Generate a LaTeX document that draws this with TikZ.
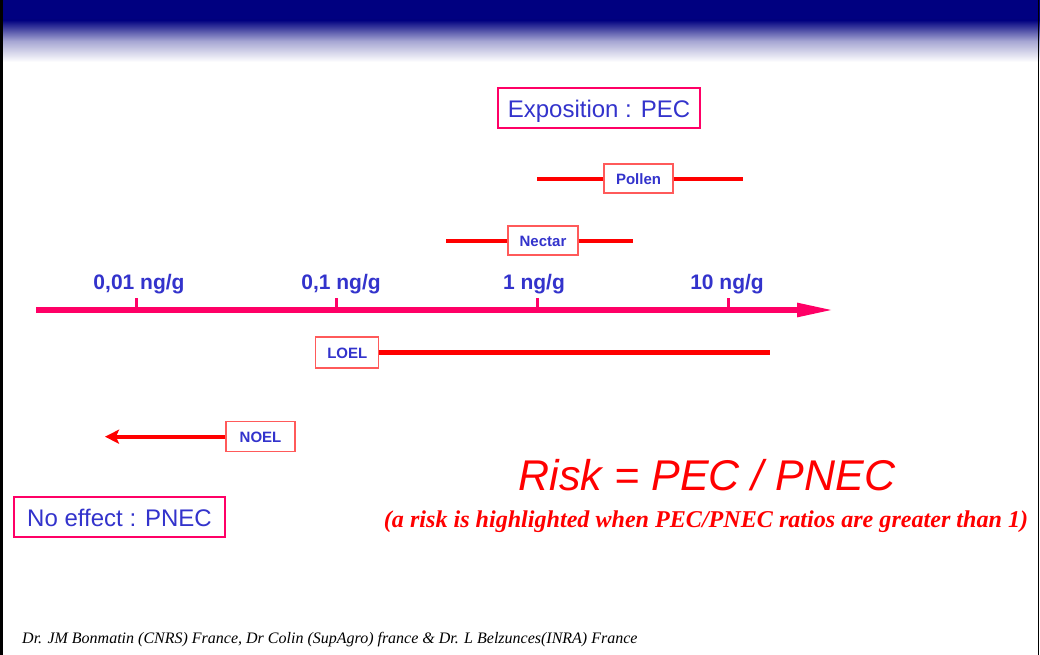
\documentclass[tikz,border=0pt]{standalone}
\usepackage{fontspec}
\setmainfont{Liberation Serif}
\setsansfont{Liberation Sans}
\usetikzlibrary{arrows.meta}
\definecolor{navyhdr}{RGB}{0,0,128}
\definecolor{txtblue}{RGB}{51,51,204}
\definecolor{pinkred}{RGB}{255,0,102}
\definecolor{boxred}{RGB}{255,90,90}
\definecolor{rangered}{RGB}{255,0,0}
\tikzset{
  bigbox/.style={draw=pinkred, line width=2pt, fill=white, text=txtblue,
    font=\sffamily\fontsize{24}{24}\selectfont, inner sep=0pt,
    text height=18.6pt, text depth=0pt},
  smallbox/.style={draw=boxred, line width=1.3pt, fill=white, text=txtblue,
    font=\sffamily\bfseries\fontsize{15}{15}\selectfont, inner sep=0pt,
    text height=11.6pt, text depth=0pt},
  ticklabel/.style={text=txtblue, font=\sffamily\bfseries\fontsize{21}{21}\selectfont,
    anchor=base, inner sep=0pt},
  axisline/.style={draw=pinkred, line width=5.5pt},
  tickmark/.style={draw=pinkred, line width=3pt},
  rangeline/.style={draw=rangered, line width=4pt},
}
\begin{document}
\begin{tikzpicture}[x=1pt,y=-1pt]
\useasboundingbox (0,0) rectangle (1040,655);
\fill[white] (0,0) rectangle (1040,655);
% header
\fill[navyhdr] (0,0) rectangle (1040,20);
\shade[top color=navyhdr, bottom color=white, middle color=navyhdr!35] (0,20) rectangle (1040,62);
% frame lines
\draw[black, line width=2.5pt] (1.5,0) -- (1.5,655);
\draw[black, line width=1.5pt] (1038.5,0) -- (1038.5,655);

% title boxes
\node[bigbox, minimum width=202pt, minimum height=40pt] (expo) at (599,108) {Exposition : PEC};
\node[bigbox, minimum width=211pt, minimum height=40pt] (noeff) at (119.5,516.7) {No effect : PNEC};

% axis
\coordinate (axL) at (36,310);
\coordinate (axR) at (834,310);
\draw[axisline, -{Triangle[length=37pt,width=13pt]}] (axL) -- (axR);
\foreach \n/\x in {t1/136, t2/336, t3/537, t4/728}{
  \coordinate (\n) at (\x,310);
  \coordinate (\n top) at (\x,298);
  \draw[tickmark] (\n) -- (\n top);
}
\node[ticklabel] (l1) at (139,289) {0,01 ng/g};
\node[ticklabel] (l2) at (341,289) {0,1 ng/g};
\node[ticklabel] (l3) at (534,289) {1 ng/g};
\node[ticklabel] (l4) at (727,289) {10 ng/g};

% pollen
\node[smallbox, minimum width=69pt, minimum height=29pt] (pollen) at (638.5,178.5) {Pollen};
\coordinate (pL) at (537,178.5);
\coordinate (pR) at (743,178.5);
\draw[rangeline] (pL) -- (pollen.west);
\draw[rangeline] (pollen.east) -- (pR);

% nectar
\node[smallbox, minimum width=70pt, minimum height=29pt] (nectar) at (543,240.5) {Nectar};
\coordinate (nL) at (446,240.5);
\coordinate (nR) at (633,240.5);
\draw[rangeline] (nL) -- (nectar.west);
\draw[rangeline] (nectar.east) -- (nR);

% LOEL
\node[smallbox, minimum width=63pt, minimum height=31pt] (loel) at (347.3,352.5) {LOEL};
\coordinate (loR) at (770,352.5);
\draw[rangered, line width=5.5pt] (loel.east) -- (loR);

% NOEL
\node[smallbox, minimum width=69pt, minimum height=30pt] (noel) at (260.5,436.7) {NOEL};
\coordinate (noL) at (105,436.7);
\draw[rangeline, -{Stealth[length=14pt,width=14pt,inset=3pt]}] (noel.west) -- (noL);

% risk
\node[anchor=base, inner sep=0pt, text=rangered, font=\sffamily\itshape\fontsize{43}{43}\selectfont] (risk) at (707,490) {Risk = PEC / PNEC};
\node[anchor=base, inner sep=0pt, text=rangered, font=\rmfamily\bfseries\itshape\fontsize{24.1}{25}\selectfont] (note) at (706,527) {(a risk is highlighted when PEC/PNEC ratios are greater than 1)};

% footer
\node[anchor=base west, inner sep=0pt, font=\rmfamily\itshape\fontsize{16}{16}\selectfont] (foot) at (22,643) {Dr. JM Bonmatin (CNRS) France, Dr Colin (SupAgro) france \& Dr. L Belzunces(INRA) France};
\end{tikzpicture}
\end{document}
